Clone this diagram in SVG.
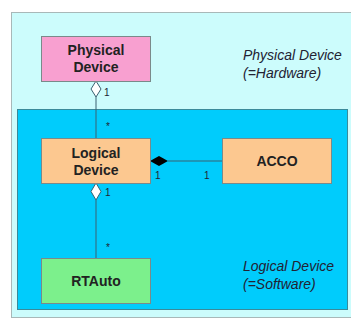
<svg xmlns="http://www.w3.org/2000/svg" width="351" height="322" viewBox="0 0 351 322">
<style>
.box{stroke:#7a8a8a;stroke-width:1}
.lbl{font-family:"Liberation Sans",Arial,sans-serif;font-weight:bold;font-size:14px;fill:#222;text-anchor:middle}
.note{font-family:"Liberation Sans",Arial,sans-serif;font-style:italic;font-size:14px;fill:#223}
.mult{font-family:"Liberation Sans",Arial,sans-serif;font-size:10px;fill:#223}
.line{stroke:#3a6070;stroke-width:1;fill:none}
</style>
<rect x="0" y="0" width="351" height="322" fill="#ffffff"/>
<rect x="11.5" y="12.5" width="345" height="305" fill="#ccfcfc" stroke="#a8b8b8"/>
<rect x="17.5" y="109.5" width="330" height="200" fill="#00ccfc" stroke="#3a8a9a"/>
<text class="note" x="243" y="60">Physical Device</text>
<text class="note" x="243" y="78">(=Hardware)</text>
<text class="note" x="243" y="271">Logical Device</text>
<text class="note" x="243" y="289">(=Software)</text>
<g id="connectors">
<line class="line" x1="96" y1="97" x2="96" y2="138"/>
<polygon points="96,81 101,89 96,97 91,89" fill="#ffffff" stroke="#3a6070"/>
<text class="mult" x="104" y="96">1</text>
<text class="mult" x="106" y="130">*</text>
<line class="line" x1="168" y1="161" x2="222" y2="161"/>
<polygon points="150,161 159,156 168,161 159,166" fill="#000"/>
<text class="mult" x="155" y="179">1</text>
<text class="mult" x="204" y="179">1</text>
<line class="line" x1="96" y1="200" x2="96" y2="258"/>
<polygon points="96,183 101,191.5 96,200 91,191.5" fill="#ffffff" stroke="#3a6070"/>
<text class="mult" x="105" y="196">1</text>
<text class="mult" x="106" y="251">*</text>
</g>
<g id="physical-device">
<rect class="box" x="41.5" y="36.5" width="109" height="45" fill="#f8a0d0"/>
<text class="lbl" x="96" y="55">Physical</text>
<text class="lbl" x="96" y="72">Device</text>
</g>
<g id="logical-device">
<rect class="box" x="41.5" y="138.5" width="109" height="45" fill="#fcc890"/>
<text class="lbl" x="96" y="158">Logical</text>
<text class="lbl" x="96" y="175">Device</text>
</g>
<g id="acco">
<rect class="box" x="222.5" y="138.5" width="109" height="45" fill="#fcc890"/>
<text class="lbl" x="277" y="166">ACCO</text>
</g>
<g id="rtauto">
<rect class="box" x="41.5" y="258.5" width="109" height="45" fill="#7cf08c"/>
<text class="lbl" x="96" y="286">RTAuto</text>
</g>
</svg>
